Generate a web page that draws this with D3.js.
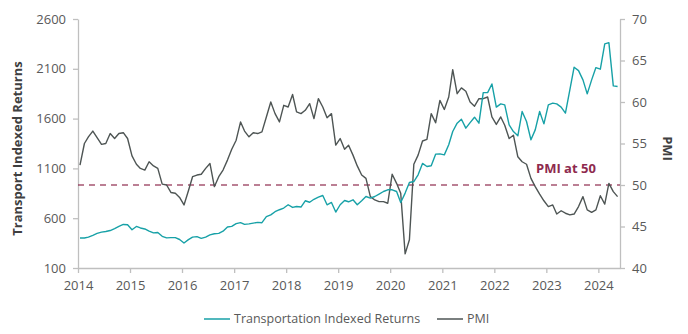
<!DOCTYPE html>
<html>
<head>
<meta charset="utf-8">
<script src="https://cdn.jsdelivr.net/npm/d3@7"></script>
<style>
  body { margin: 0; background: #fff; }
  svg { font-family: 'Open Sans', sans-serif; }
</style>
</head>
<body>
<svg id="chart"></svg>
<script>
const SVG_WIDTH = 688;
const SVG_HEIGHT = 334;
const margin = { top: 19, right: 68, bottom: 66, left: 78 };

const TEAL = '#17a1a7';
const GREY = '#4e5554';
const MAROON = '#8e2a4e';
const AXIS = '#bfbfbf';
const LABEL = '#595959';

// monthly, Jan 2014 .. May 2024
const startYear = 2014;

const returns = [
  401, 401, 410, 428, 447, 460, 467, 476, 495, 517, 537, 534,
  484, 517, 502, 492, 470, 453, 457, 418, 402, 405, 405, 386,
  351, 385, 410, 415, 397, 410, 432, 444, 448, 470, 512, 518,
  545, 556, 538, 543, 551, 558, 555, 615, 633, 665, 685, 702,
  735, 708, 718, 712, 775, 760, 790, 812, 828, 735, 758, 662,
  735, 778, 765, 785, 735, 775, 818, 802, 818, 842, 868, 885,
  885, 868, 758, 852, 958, 968, 1036, 1150, 1119, 1126, 1243, 1246,
  1236, 1337, 1470, 1554, 1594, 1504, 1560, 1614, 1554, 1861, 1861, 1948,
  1715, 1748, 1738, 1537, 1470, 1427, 1671, 1571, 1387, 1487, 1671, 1547,
  1738, 1755, 1748, 1715, 1655, 1888, 2116, 2082, 1989, 1848, 1989, 2112,
  2096, 2350, 2363, 1929, 1922
];

const pmi = [
  52.4, 55.0, 55.8, 56.5, 55.7, 54.9, 55.0, 56.2, 55.6, 56.2, 56.3, 55.6,
  53.5, 52.5, 52.0, 51.8, 52.8, 52.3, 52.0, 50.1, 50.0, 49.1, 49.0, 48.5,
  47.6, 49.3, 51.0, 51.2, 51.3, 52.0, 52.6, 49.8, 51.0, 51.8, 53.0, 54.3,
  55.4, 57.6, 56.5, 55.8, 56.3, 56.2, 56.4, 58.2, 60.0, 58.6, 57.6, 59.6,
  59.4, 60.9, 58.8, 58.6, 59.0, 59.8, 58.0, 60.4, 59.4, 58.1, 58.6, 54.8,
  55.6, 54.3, 54.8, 53.6, 52.3, 51.2, 50.8, 48.6, 48.2, 48.0, 48.0, 47.8,
  51.3, 50.2, 49.0, 41.7, 43.4, 52.5, 53.6, 55.3, 55.5, 58.6, 57.5, 60.2,
  59.1, 60.6, 63.9, 61.0, 61.7, 61.3, 60.0, 59.5, 60.4, 60.4, 60.6, 58.2,
  57.3, 58.2, 57.2, 55.6, 56.0, 53.4, 52.8, 52.5, 50.8, 49.8, 48.9, 48.1,
  47.4, 47.6, 46.5, 46.9, 46.6, 46.4, 46.5, 47.4, 48.6, 47.0, 46.7, 47.0,
  48.7, 47.7, 50.2, 49.2, 48.6
];

const leftTicks = [100, 600, 1100, 1600, 2100, 2600];
const rightTicks = [40, 45, 50, 55, 60, 65, 70];
const yearTicks = d3.range(2014, 2025);
const pmiThreshold = 50;
const seriesNames = ['Transportation Indexed Returns', 'PMI'];

const dates = returns.map((d, i) => new Date(startYear, i, 15));

const svg = d3.select('#chart')
  .attr('width', SVG_WIDTH)
  .attr('height', SVG_HEIGHT);

const xScale = d3.scaleTime()
  .domain([new Date(2014, 0, 1), new Date(2024, 5, 1)])
  .range([margin.left, SVG_WIDTH - margin.right]);

const yLeft = d3.scaleLinear()
  .domain([100, 2600])
  .range([SVG_HEIGHT - margin.bottom, margin.top]);

const yRight = d3.scaleLinear()
  .domain([40, 70])
  .range([SVG_HEIGHT - margin.bottom, margin.top]);

const styleAxis = g => {
  g.select('.domain').attr('stroke', AXIS).attr('stroke-width', 1.3);
  g.selectAll('.tick line').attr('stroke', AXIS).attr('stroke-width', 1.3);
  g.selectAll('.tick text')
    .attr('fill', LABEL)
    .style('font-size', '13px')
    .style('font-family', "'Open Sans', sans-serif");
};

// x axis
svg.append('g')
  .attr('transform', `translate(0,${SVG_HEIGHT - margin.bottom})`)
  .call(d3.axisBottom(xScale)
    .tickValues(yearTicks.map(y => new Date(y, 0, 1)))
    .tickFormat(d3.timeFormat('%Y'))
    .tickSize(5)
    .tickSizeOuter(0)
    .tickPadding(8))
  .call(styleAxis);

// left axis
svg.append('g')
  .attr('transform', `translate(${margin.left},0)`)
  .call(d3.axisLeft(yLeft)
    .tickValues(leftTicks)
    .tickFormat(d3.format('d'))
    .tickSize(5)
    .tickSizeOuter(0)
    .tickPadding(7))
  .call(styleAxis);

// right axis
svg.append('g')
  .attr('transform', `translate(${SVG_WIDTH - margin.right},0)`)
  .call(d3.axisRight(yRight).tickValues(rightTicks).tickSize(5).tickSizeOuter(0).tickPadding(7))
  .call(styleAxis);

// PMI at 50 line
svg.append('line')
  .attr('x1', margin.left)
  .attr('x2', SVG_WIDTH - margin.right)
  .attr('y1', yRight(pmiThreshold))
  .attr('y2', yRight(pmiThreshold))
  .attr('stroke', MAROON)
  .attr('stroke-opacity', 0.8)
  .attr('stroke-width', 1.5)
  .attr('stroke-dasharray', '6,5');

svg.append('text')
  .attr('x', 536)
  .attr('y', yRight(pmiThreshold) - 12)
  .attr('fill', MAROON)
  .style('font-size', '13px')
  .style('font-weight', 'bold')
  .text('PMI at ' + pmiThreshold);

const lineReturns = d3.line()
  .x((d, i) => xScale(dates[i]))
  .y(d => yLeft(d));

const linePmi = d3.line()
  .x((d, i) => xScale(dates[i]))
  .y(d => yRight(d));

svg.append('path')
  .datum(pmi)
  .attr('fill', 'none')
  .attr('stroke', GREY)
  .attr('stroke-width', 1.4)
  .attr('stroke-linejoin', 'round')
  .attr('d', linePmi);

svg.append('path')
  .datum(returns)
  .attr('fill', 'none')
  .attr('stroke', TEAL)
  .attr('stroke-width', 1.4)
  .attr('stroke-linejoin', 'round')
  .attr('d', lineReturns);

// axis titles
svg.append('text')
  .attr('transform', `translate(22,${(SVG_HEIGHT - margin.bottom + margin.top) / 2 + 5}) rotate(-90)`)
  .attr('text-anchor', 'middle')
  .attr('fill', '#404040')
  .style('font-size', '13px')
  .style('font-weight', 'bold')
  .text('Transport Indexed Returns');

svg.append('text')
  .attr('transform', `translate(663,${(SVG_HEIGHT - margin.bottom + margin.top) / 2 + 5}) rotate(90)`)
  .attr('text-anchor', 'middle')
  .attr('fill', '#404040')
  .style('font-size', '13px')
  .style('font-weight', 'bold')
  .text('PMI');

// legend
const legend = svg.append('g').attr('transform', 'translate(0,319)');
const legendItems = [
  { name: seriesNames[0], color: TEAL, x: 204 },
  { name: seriesNames[1], color: GREY, x: 437 }
];
legendItems.forEach(item => {
  legend.append('line')
    .attr('x1', item.x).attr('x2', item.x + 26)
    .attr('y1', 0).attr('y2', 0)
    .attr('stroke', item.color)
    .attr('stroke-width', 1.5);
  legend.append('text')
    .attr('x', item.x + 30)
    .attr('y', 0)
    .attr('dy', '0.35em')
    .attr('fill', LABEL)
    .style('font-size', '12.5px')
    .text(item.name);
});
</script>
</body>
</html>
